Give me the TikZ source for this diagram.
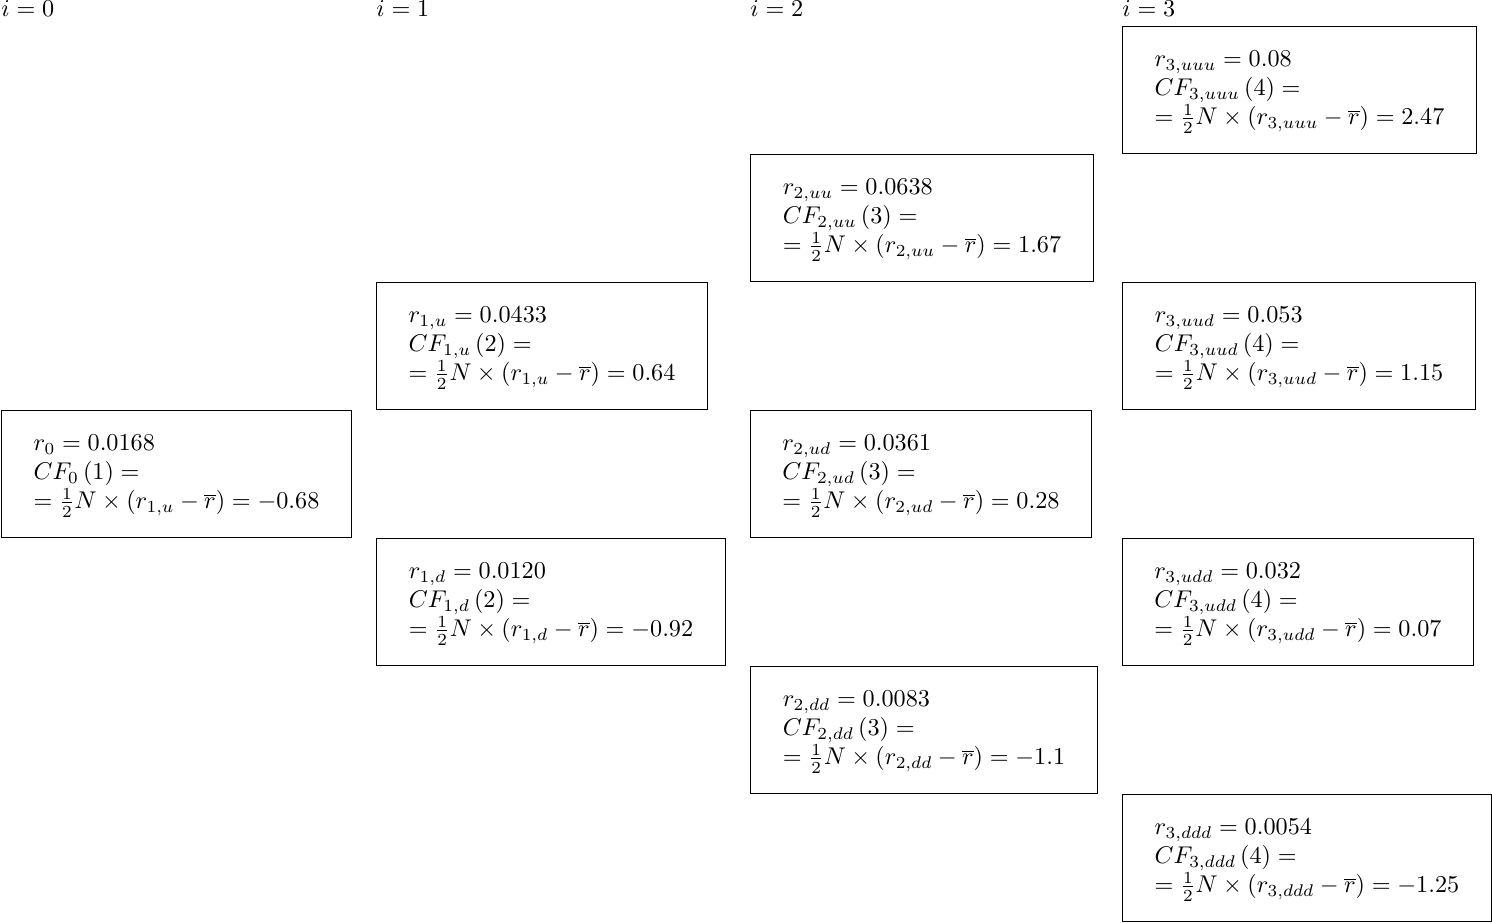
\documentclass[tikz,border=0pt]{standalone}
\usepackage{amsmath}
\newcommand\cellc[3]{\begin{tabular}{@{}l@{}}#1\\ #2\\ #3\end{tabular}}
\begin{document}
\begin{tikzpicture}[x=0.4132pt,y=-0.4132pt,
  cell/.style={draw, line width=0.4pt, anchor=north west, inner sep=0pt,
    minimum height=127*0.4132pt, font=\fontsize{10}{12}\selectfont},
  lev/.style={anchor=base west, inner sep=0pt, font=\fontsize{10}{12}\selectfont}]
\useasboundingbox (0,0) rectangle (1492,923);
\node[lev] (l0) at (1,17) {$i=0$};
\node[lev] (l1) at (376,17) {$i=1$};
\node[lev] (l2) at (750,17) {$i=2$};
\node[lev] (l3) at (1122,17) {$i=3$};
\node[cell, minimum width=350*0.4132pt] (b0) at (1,410) {\cellc{$r_0=0.0168$}{$CF_0\left(1\right)=$}{$=\frac{1}{2}N\times\left(r_{1,u}-\overline{r}\right)=-0.68$}};
\node[cell, minimum width=331*0.4132pt] (b1u) at (376,282) {\cellc{$r_{1,u}=0.0433$}{$CF_{1,u}\left(2\right)=$}{$=\frac{1}{2}N\times\left(r_{1,u}-\overline{r}\right)=0.64$}};
\node[cell, minimum width=349*0.4132pt] (b1d) at (376,538) {\cellc{$r_{1,d}=0.0120$}{$CF_{1,d}\left(2\right)=$}{$=\frac{1}{2}N\times\left(r_{1,d}-\overline{r}\right)=-0.92$}};
\node[cell, minimum width=343*0.4132pt] (b2uu) at (750,154) {\cellc{$r_{2,uu}=0.0638$}{$CF_{2,uu}\left(3\right)=$}{$=\frac{1}{2}N\times\left(r_{2,uu}-\overline{r}\right)=1.67$}};
\node[cell, minimum width=341*0.4132pt] (b2ud) at (750,410) {\cellc{$r_{2,ud}=0.0361$}{$CF_{2,ud}\left(3\right)=$}{$=\frac{1}{2}N\times\left(r_{2,ud}-\overline{r}\right)=0.28$}};
\node[cell, minimum width=347*0.4132pt] (b2dd) at (750,666) {\cellc{$r_{2,dd}=0.0083$}{$CF_{2,dd}\left(3\right)=$}{$=\frac{1}{2}N\times\left(r_{2,dd}-\overline{r}\right)=-1.1$}};
\node[cell, minimum width=354*0.4132pt] (b3uuu) at (1122,26) {\cellc{$r_{3,uuu}=0.08$}{$CF_{3,uuu}\left(4\right)=$}{$=\frac{1}{2}N\times\left(r_{3,uuu}-\overline{r}\right)=2.47$}};
\node[cell, minimum width=353*0.4132pt] (b3uud) at (1122,282) {\cellc{$r_{3,uud}=0.053$}{$CF_{3,uud}\left(4\right)=$}{$=\frac{1}{2}N\times\left(r_{3,uud}-\overline{r}\right)=1.15$}};
\node[cell, minimum width=351*0.4132pt] (b3udd) at (1122,538) {\cellc{$r_{3,udd}=0.032$}{$CF_{3,udd}\left(4\right)=$}{$=\frac{1}{2}N\times\left(r_{3,udd}-\overline{r}\right)=0.07$}};
\node[cell, minimum width=369*0.4132pt] (b3ddd) at (1122,794) {\cellc{$r_{3,ddd}=0.0054$}{$CF_{3,ddd}\left(4\right)=$}{$=\frac{1}{2}N\times\left(r_{3,ddd}-\overline{r}\right)=-1.25$}};
\end{tikzpicture}
\end{document}
